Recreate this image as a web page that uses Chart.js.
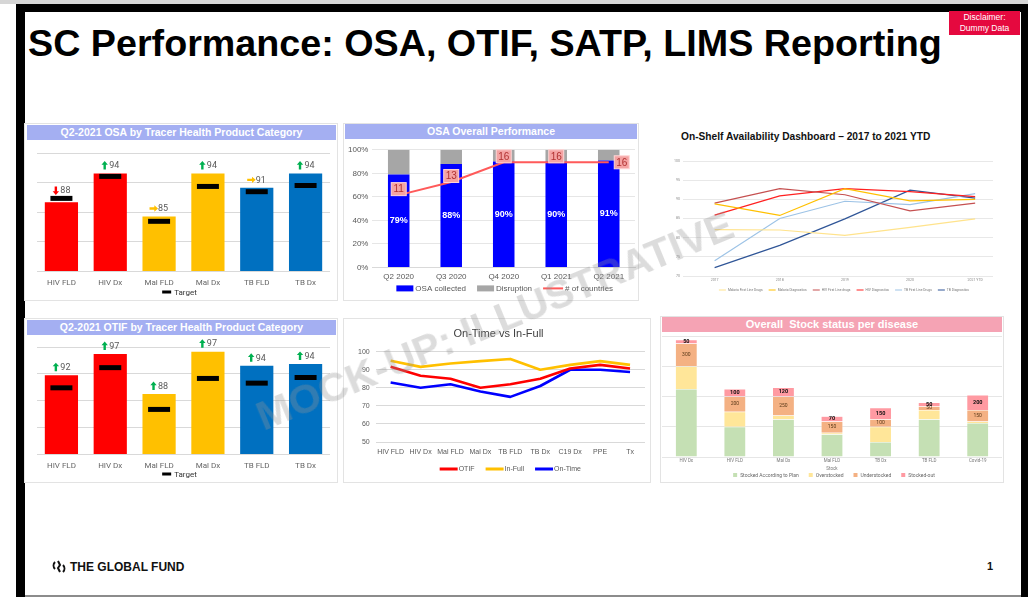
<!DOCTYPE html>
<html>
<head>
<meta charset="utf-8">
<script src="https://cdn.jsdelivr.net/npm/chart.js@4.4.0/dist/chart.umd.min.js"></script>
<style>
body{margin:0;width:1028px;height:597px;overflow:hidden;background:#fff;font-family:"Liberation Sans",Arial,sans-serif;position:relative}
.abs{position:absolute}
.panel{position:absolute;border:1px solid #e3e3e3;box-sizing:border-box;background:#fff}
.head{position:absolute;color:#fff;font-weight:bold;font-size:10.5px;text-align:center;line-height:15px;white-space:nowrap}
.box{position:absolute}
</style>
</head>
<body>
<!-- slide frame -->
<div class="abs" style="left:0;top:0;width:1028px;height:4px;background:#d6d6d6"></div>
<div class="abs" style="left:16px;top:4px;width:1012px;height:8px;background:#000"></div>
<div class="abs" style="left:16px;top:4px;width:9px;height:593px;background:#000"></div>
<div class="abs" style="left:1021px;top:4px;width:7px;height:593px;background:#000"></div>
<div class="abs" style="left:25px;top:595px;width:996px;height:2px;background:#8c8c8c"></div>

<div class="abs" style="left:28px;top:25px;font-size:37.7px;line-height:37px;font-weight:bold;color:#000;white-space:nowrap">SC Performance: OSA, OTIF, SATP, LIMS Reporting</div>
<div class="abs" style="left:949px;top:11px;width:71px;height:24px;background:#E5093F;color:#fff;font-size:8.5px;line-height:11px;text-align:center;padding-top:1px;box-sizing:border-box">Disclaimer:<br>Dummy Data</div>

<!-- panels -->
<div class="panel" style="left:24px;top:123px;width:314px;height:178px"></div>
<div class="head" style="left:27px;top:125px;width:309px;background:#A4AFF2">Q2-2021 OSA by Tracer Health Product Category</div>
<div class="box" style="left:25px;top:143px;width:312px;height:163px"><canvas id="osaCat"></canvas></div>

<div class="panel" style="left:343px;top:123px;width:296px;height:178px"></div>
<div class="head" style="left:345px;top:124px;width:292px;background:#A4AFF2">OSA Overall Performance</div>
<div class="box" style="left:344px;top:141px;width:294px;height:161px"><canvas id="osaOverall"></canvas></div>

<div class="abs" style="left:681px;top:131px;font-size:10.2px;font-weight:bold;color:#111;white-space:nowrap">On-Shelf Availability Dashboard – 2017 to 2021 YTD</div>
<div class="box" style="left:660px;top:150px;width:343px;height:152px"><canvas id="osaTrend"></canvas></div>

<div class="panel" style="left:24px;top:318px;width:314px;height:165px"></div>
<div class="head" style="left:27px;top:320px;width:309px;background:#A4AFF2">Q2-2021 OTIF by Tracer Health Product Category</div>
<div class="box" style="left:25px;top:337px;width:312px;height:152px"><canvas id="otifCat"></canvas></div>

<div class="panel" style="left:343px;top:318px;width:308px;height:165px"></div>
<div class="box" style="left:344px;top:319px;width:306px;height:164px"><canvas id="otifLines"></canvas></div>

<div class="panel" style="left:660px;top:316px;width:344px;height:167px"></div>
<div class="head" style="left:662px;top:317px;width:340px;height:15px;line-height:15px;background:#F5A3B4;font-size:11px">Overall&nbsp; Stock status per disease</div>
<div class="box" style="left:661px;top:333px;width:342px;height:155px"><canvas id="stock"></canvas></div>

<!-- watermark -->
<div class="abs" style="left:495px;top:321px;transform:translate(-50%,-50%) rotate(-22.4deg);font-size:41px;font-weight:bold;color:rgba(150,150,150,0.33);white-space:nowrap;pointer-events:none;z-index:5">MOCK-UP: ILLUSTRATIVE</div>

<!-- footer -->
<svg class="abs" style="left:52px;top:560px" width="14" height="14" viewBox="0 0 14 14">
  <path d="M3 2 A5 5 0 0 0 3 9" fill="none" stroke="#111" stroke-width="2"/>
  <path d="M6 1 L8 5 L6 8 L8 12" fill="none" stroke="#111" stroke-width="2"/>
  <path d="M11 5 A5 5 0 0 1 11 12" fill="none" stroke="#111" stroke-width="2"/>
</svg>
<div class="abs" style="left:70px;top:560px;font-size:12px;font-weight:bold;color:#111;white-space:nowrap">THE GLOBAL FUND</div>
<div class="abs" style="left:987px;top:560px;font-size:11px;font-weight:bold;color:#111">1</div>

<script>
// tracer categories (panels 1 and 4)
const TRACER_CATS=["HIV FLD","HIV Dx","Mal FLD","Mal Dx","TB FLD","TB Dx"];
const TRACER_COLORS=["#FF0000","#FF0000","#FFC000","#FFC000","#0070C0","#0070C0"];
const OSA_VALUES=[88,94,85,94,91,94];
const OSA_TARGETS=[88.8,93.4,84,91.3,90.2,91.5];
const OSA_TREND=["down","up","flat","up","flat","up"];
const OTIF_VALUES=[92,96.5,88,97,94,94.4];
const OTIF_TARGETS=[89.3,93.6,84.7,91.3,90.3,91.5];
const OTIF_TREND=["up","up","up","up","up","up"];

// OSA overall
const QUARTERS=["Q2 2020","Q3 2020","Q4 2020","Q1 2021","Q2 2021"];
const OSA_COLLECTED=[79,88,90,90,91];
const OSA_DISRUPTION=[21,12,10,10,9];
const COUNTRIES=[11,13,16,16,16];

// OSA dashboard 2017-2021
const YEARS=["2017","2018","2019","2020","2021 YTD"];
const MAL_FLD=[82.1,82,80.6,82.7,84.9];
const MAL_DX=[88.8,85.8,92.8,89.6,90];
const HIV_FLD=[89,92.8,91.2,87,89];
const HIV_DX=[85.9,90.9,92.8,92,90.7];
const TB_FLD=[74,85,89.5,88.6,91.5];
const TB_DX=[72.2,78,84.9,92.4,90.3];

// On-time vs in-full
const OTIF_CATS=["HIV FLD","HIV Dx","Mal FLD","Mal Dx","TB FLD","TB Dx","C19 Dx","PPE","Tx"];
const OTIF_LINE=[91.6,86.7,85,80,82,85,90.7,92.7,90.7];
const INFULL_LINE=[95,91.6,93.5,94.8,96,90,92.7,94.8,92.7];
const ONTIME_LINE=[82.9,80,82,78,75,81,90,90,88.8];

// stock status
const STOCK_CATS=["HIV Dx","HIV FLD","Mal Dx","Mal FLD","TB Dx","TB FLD","Covid-19"];
const STOCK_PLAN=[900,400,500,300,200,500,450];
const STOCK_OVER=[300,200,50,20,200,120,20];
const STOCK_UNDER=[300,200,250,150,100,50,150];
const STOCK_OUT=[50,100,120,70,150,50,200];

Chart.defaults.animation=false;
Chart.defaults.devicePixelRatio=1;
Chart.defaults.responsive=true;
Chart.defaults.maintainAspectRatio=false;
Chart.defaults.layout.autoPadding=false;
Chart.defaults.font.family="Roboto, 'Liberation Sans', sans-serif";
Chart.defaults.color="#666";
Chart.defaults.plugins.tooltip.enabled=false;
Chart.defaults.plugins.legend.display=false;

// legend drawn just under the x labels, tighter than the built-in one
const bottomLegend={id:"bottomLegend",afterDraw(chart,args,o){
  if(!o.items) return;
  const ctx=chart.ctx, area=chart.chartArea;
  ctx.save();
  ctx.font=o.font;ctx.textBaseline="middle";ctx.textAlign="left";
  const widths=o.items.map(it=>it.w+o.gap+ctx.measureText(it.text).width);
  const total=widths.reduce((a,b)=>a+b,0)+o.spacing*(o.items.length-1);
  let x=(area.left+area.right)/2-total/2+(o.shift||0);
  const y=area.bottom+o.dy;
  o.items.forEach((it,i)=>{
    ctx.fillStyle=it.color;
    ctx.fillRect(x,y-it.h/2,it.w,it.h);
    ctx.fillStyle=o.color;
    ctx.fillText(it.text,x+it.w+o.gap,y+0.5);
    x+=widths[i]+o.spacing;
  });
  ctx.restore();
}};

const ARROW_COLORS={up:"#00B050",down:"#FF0000",flat:"#FFC000"};
const ARROW_ROT={up:0,down:Math.PI,flat:Math.PI/2};
function drawArrow(ctx,x,y,dir){
  ctx.save();
  ctx.translate(x,y);ctx.rotate(ARROW_ROT[dir]);
  ctx.fillStyle=ARROW_COLORS[dir];
  ctx.beginPath();
  ctx.moveTo(0,-4.5);ctx.lineTo(3.2,-0.8);ctx.lineTo(1.2,-0.8);ctx.lineTo(1.2,4);
  ctx.lineTo(-1.2,4);ctx.lineTo(-1.2,-0.8);ctx.lineTo(-3.2,-0.8);ctx.closePath();
  ctx.fill();
  ctx.restore();
}

const trendLabels={id:"trendLabels",afterDatasetsDraw(chart,args,opts){
  const ctx=chart.ctx;
  const bars=chart.getDatasetMeta(1).data;
  const marks=chart.getDatasetMeta(0).data;
  bars.forEach((bar,i)=>{
    const txt=String(Math.round(opts.values[i]));
    const y=Math.min(bar.y,marks[i].y)-8;
    ctx.save();
    ctx.font="9px Roboto";
    const tw=ctx.measureText(txt).width;
    const aw=7;
    const x=bar.x-(aw+1+tw)/2;
    drawArrow(ctx,x+aw/2,y,opts.trend[i]);
    ctx.textBaseline="middle";ctx.textAlign="left";
    ctx.fillStyle="#595959";
    ctx.fillText(txt,x+aw+1,y+0.5);
    ctx.restore();
  });
}};

function tracerChart(id,values,targets,trend,yMin,yMax,legendDy){
  new Chart(document.getElementById(id),{
    type:"bar",
    data:{labels:TRACER_CATS,datasets:[
      {type:"line",label:"Target",data:targets,showLine:false,pointStyle:"line",pointRadius:11,borderColor:"#000",backgroundColor:"#000",borderWidth:5},
      {label:"Value",data:values,backgroundColor:TRACER_COLORS,barPercentage:0.68,categoryPercentage:1}
    ]},
    options:{
      layout:{padding:{left:12,right:7,top:10,bottom:11.4}},
      scales:{
        x:{grid:{display:false,drawTicks:false},border:{display:false},ticks:{font:{size:8},color:"#666",padding:7}},
        y:{min:yMin,max:yMax,ticks:{display:false,stepSize:(yMax-yMin)/4},grid:{color:"#d9d9d9",drawTicks:false},border:{display:false}}
      },
      plugins:{
        trendLabels:{values,trend},
        bottomLegend:{font:"8px Roboto",color:"#333",gap:3,spacing:8,dy:legendDy,shift:-4,items:[{text:"Target",color:"#000",w:9,h:3}]}
      }
    },
    plugins:[trendLabels,bottomLegend]
  });
}
tracerChart("osaCat",OSA_VALUES,OSA_TARGETS,OSA_TREND,73.6,98.3,21);
tracerChart("otifCat",OTIF_VALUES,OTIF_TARGETS,OTIF_TREND,75.2,98,20);

const overallLabels={id:"overallLabels",afterDatasetsDraw(chart){
  const ctx=chart.ctx;
  ctx.save();
  ctx.textAlign="center";ctx.textBaseline="middle";
  chart.getDatasetMeta(1).data.forEach((bar,i)=>{
    ctx.fillStyle="#fff";ctx.font="bold 9px 'Liberation Sans'";
    ctx.fillText(OSA_COLLECTED[i]+"%",bar.x,(bar.y+bar.base)/2);
  });
  const pts=chart.getDatasetMeta(0).data;
  pts.forEach((pt,i)=>{
    const last=i===pts.length-1;
    const cx=last?pt.x+13:pt.x, cy=last?pt.y:pt.y-6;
    const w=15,h=13;
    ctx.fillStyle="#F4A3A3";ctx.strokeStyle="#FFD6D6";ctx.lineWidth=1;
    ctx.fillRect(cx-w/2,cy-h/2,w,h);ctx.strokeRect(cx-w/2,cy-h/2,w,h);
    ctx.fillStyle="#B03030";ctx.font="10px 'Liberation Sans'";
    ctx.fillText(String(COUNTRIES[i]),cx,cy+0.5);
  });
  ctx.restore();
}};

new Chart(document.getElementById("osaOverall"),{
  type:"bar",
  data:{labels:QUARTERS,datasets:[
    {type:"line",label:"# of countries",data:COUNTRIES,yAxisID:"y1",borderColor:"#FF5A5A",backgroundColor:"#FF5A5A",borderWidth:2,pointRadius:0},
    {label:"OSA collected",data:OSA_COLLECTED,backgroundColor:"#0000FF",barPercentage:0.41,categoryPercentage:1,stack:"s"},
    {label:"Disruption",data:OSA_DISRUPTION,backgroundColor:"#A6A6A6",barPercentage:0.41,categoryPercentage:1,stack:"s"}
  ]},
  options:{
    layout:{padding:{left:0,right:3,top:2,bottom:15}},
    scales:{
      x:{stacked:true,grid:{display:false,drawTicks:false},border:{color:"#d9d9d9"},ticks:{font:{size:8,family:"'Liberation Sans'"},color:"#595959",padding:5}},
      y:{stacked:true,min:0,max:100,ticks:{stepSize:20,callback:v=>v+"%",font:{size:8,family:"'Liberation Sans'"},color:"#595959",padding:4},grid:{color:"#e6e6e6",drawTicks:false},border:{display:false}},
      y1:{display:false,min:0,max:17.9}
    },
    plugins:{
      bottomLegend:{font:"8px 'Liberation Sans'",color:"#595959",gap:2,spacing:11,dy:21,shift:1,items:[
        {text:"OSA collected",color:"#0000FF",w:17,h:6},
        {text:"Disruption",color:"#A6A6A6",w:17,h:6},
        {text:"# of countries",color:"#FF5A5A",w:20,h:2}
      ]}
    }
  },
  plugins:[overallLabels,bottomLegend]
});

const TREND_SERIES=[
  ["Malaria First Line Drugs",MAL_FLD,"#FFE38C"],
  ["Malaria Diagnostics",MAL_DX,"#FFC000"],
  ["HIV First Line drugs",HIV_FLD,"#C55050"],
  ["HIV Diagnostics",HIV_DX,"#FF2020"],
  ["TB First Line Drugs",TB_FLD,"#9DC3E6"],
  ["TB Diagnostics",TB_DX,"#2F5597"]
];
new Chart(document.getElementById("osaTrend"),{
  type:"line",
  data:{datasets:TREND_SERIES.map(([label,vals,col])=>({label,data:vals.map((v,i)=>({x:i,y:v})),borderColor:col,backgroundColor:col,borderWidth:1.2,pointRadius:0}))},
  options:{
    layout:{padding:{left:11,right:10,top:11,bottom:17.8}},
    scales:{
      x:{type:"linear",min:-0.487,max:4.274,grid:{display:false,drawTicks:false},border:{display:false},
         ticks:{stepSize:1,font:{size:3.5},color:"#888",padding:2,callback:v=>Number.isInteger(v)?YEARS[v]:null}},
      y:{min:70,max:100,ticks:{stepSize:5,font:{size:3.5},color:"#888",padding:3},grid:{color:"#e8e8e8",drawTicks:false},border:{display:false}}
    },
    plugins:{
      bottomLegend:{font:"3.3px Roboto",color:"#777",gap:2,spacing:6,dy:14,shift:6,items:TREND_SERIES.map(([t,,c])=>({text:t,color:c,w:7,h:1}))}
    }
  },
  plugins:[bottomLegend]
});

new Chart(document.getElementById("otifLines"),{
  type:"line",
  data:{labels:OTIF_CATS,datasets:[
    {label:"OTIF",data:OTIF_LINE,borderColor:"#FF0000"},
    {label:"In-Full",data:INFULL_LINE,borderColor:"#FFC000"},
    {label:"On-Time",data:ONTIME_LINE,borderColor:"#0000FF"}
  ].map(d=>Object.assign(d,{borderWidth:2.6,pointRadius:0,backgroundColor:d.borderColor,borderJoinStyle:"round"}))},
  options:{
    layout:{padding:{left:8,right:5,top:0,bottom:20.6}},
    scales:{
      x:{offset:true,grid:{display:false,drawTicks:false},border:{display:false},ticks:{font:{size:7,family:"'Liberation Sans'"},color:"#595959",padding:6,maxRotation:0,autoSkip:false}},
      y:{min:50,max:100,ticks:{stepSize:10,font:{size:7,family:"'Liberation Sans'"},color:"#595959",padding:6},grid:{color:"#d9d9d9",drawTicks:false},border:{display:false}}
    },
    plugins:{
      title:{display:true,text:"On-Time vs In-Full",font:{size:11,weight:"normal",family:"'Liberation Sans'"},color:"#404040",padding:{top:8,bottom:11.5}},
      bottomLegend:{font:"7px 'Liberation Sans'",color:"#595959",gap:1,spacing:11,dy:27,shift:0,items:[
        {text:"OTIF",color:"#FF0000",w:18,h:3},
        {text:"In-Full",color:"#FFC000",w:18,h:3},
        {text:"On-Time",color:"#0000FF",w:18,h:3}
      ]}
    }
  },
  plugins:[bottomLegend]
});

const stockLabels={id:"stockLabels",afterDatasetsDraw(chart){
  const ctx=chart.ctx;
  ctx.save();ctx.textAlign="center";ctx.textBaseline="middle";
  [[2,STOCK_UNDER,"5px Roboto","#5a3a1a"],[3,STOCK_OUT,"bold 5.5px Roboto","#111"]].forEach(([di,vals,font,col])=>{
    chart.getDatasetMeta(di).data.forEach((bar,i)=>{
      ctx.font=font;ctx.fillStyle=col;
      ctx.fillText(String(vals[i]),bar.x,(bar.y+bar.base)/2);
    });
  });
  ctx.restore();
}};

const STOCK_SERIES=[
  ["Stocked According to Plan",STOCK_PLAN,"#C5E0B4"],
  ["Overstocked",STOCK_OVER,"#FFE699"],
  ["Understocked",STOCK_UNDER,"#F4B183"],
  ["Stocked-out",STOCK_OUT,"#FF9AA2"]
];
new Chart(document.getElementById("stock"),{
  type:"bar",
  data:{labels:STOCK_CATS,datasets:STOCK_SERIES.map(([label,data,col])=>({label,data,backgroundColor:col,barPercentage:0.45,categoryPercentage:1,borderColor:"rgba(255,255,255,0.5)",borderWidth:0.5}))},
  options:{
    layout:{padding:{left:1,right:1,top:3,bottom:16.2}},
    scales:{
      x:{stacked:true,grid:{display:false,drawTicks:false},border:{display:false},ticks:{font:{size:4.5},color:"#777",padding:1},title:{display:true,text:"Stock",font:{size:4.5},color:"#777",padding:{top:2,bottom:0}}},
      y:{stacked:true,min:0,max:1600,ticks:{display:false,stepSize:400},grid:{color:"#e6e6e6",drawTicks:false},border:{display:false}}
    },
    plugins:{
      bottomLegend:{font:"5px Roboto",color:"#666",gap:3,spacing:10,dy:18,shift:2,items:STOCK_SERIES.map(([t,,c])=>({text:t,color:c,w:4,h:4}))}
    }
  },
  plugins:[stockLabels,bottomLegend]
});
</script>
</body>
</html>
